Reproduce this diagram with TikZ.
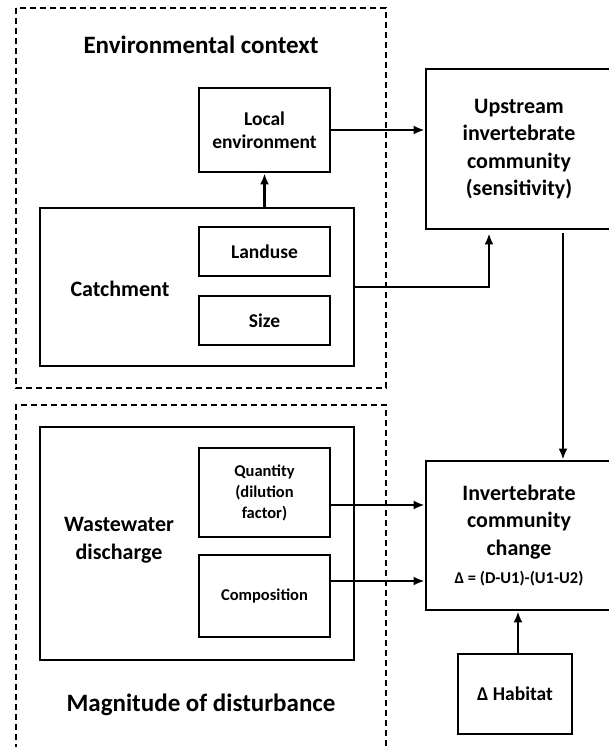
\documentclass[tikz,border=0pt]{standalone}
\usepackage{fontspec}
\setmainfont{Carlito}
\usepackage{tikz}
\usetikzlibrary{arrows.meta}

\tikzset{
  box/.style = {draw, line width=2.8pt, align=center, inner sep=0pt, font=\bfseries},
  group/.style = {draw, line width=2pt},
  frame/.style = {draw, line width=1.4pt, dash pattern=on 6pt off 4pt},
  link/.style = {line width=2.4pt, -{Latex[length=11pt,width=9pt]}},
  big/.style = {font=\bfseries\fontsize{22}{27.5}\selectfont},
  mid/.style = {font=\bfseries\fontsize{19.5}{23}\selectfont},
  small/.style = {font=\bfseries\fontsize{16.5}{21}\selectfont},
  headline/.style = {font=\bfseries\fontsize{25}{30}\selectfont}
}

\begin{document}
\begin{tikzpicture}[x=1pt, y=-1pt]
    \clip (0,0) rectangle (609,747);
    \fill[white] (0,0) rectangle (609,747);

    % draw dashed frames
    \draw[frame] (16,8) rectangle (386,388);
    \draw[frame] (16,760) -- (16,405) -- (386,405) -- (386,760);
    \node[headline] (envtitle) at (201,45) {Environmental context};
    \node[headline] (magtitle) at (201,705) {Magnitude of disturbance};

    % draw environmental context
    \draw[group] (40,208) rectangle (354,366);
    \coordinate (catchtop) at (264.5,208);
    \coordinate (catchright) at (354,287);
    \node[big] (catchlabel) at (120,289) {Catchment};
    \node[box, mid, minimum width=131pt, minimum height=84pt] (local) at (264.5,130) {Local\\environment};
    \node[box, mid, minimum width=131pt, minimum height=49pt] (landuse) at (264.5,251.5) {Landuse};
    \node[box, mid, minimum width=131pt, minimum height=49pt] (size) at (264.5,320.5) {Size};

    % draw magnitude of disturbance
    \draw[group] (40,427) rectangle (354,660);
    \node[big, align=center] (wastelabel) at (119,540) {Wastewater\\discharge};
    \node[box, small, minimum width=131pt, minimum height=89pt] (quantity) at (264.5,492.5) {Quantity\\(dilution\\factor)};
    \node[box, small, minimum width=131pt, minimum height=82pt] (composition) at (264.5,596) {Composition};

    % draw community boxes
    \node[box, big, minimum width=186pt, minimum height=160pt] (upstream) at (519,149)
      {Upstream\\invertebrate\\community\\(sensitivity)};
    \node[box, big, minimum width=186pt, minimum height=149pt] (change) at (519,535.5)
      {Invertebrate\\community\\change\\[1pt]{\fontsize{16.5}{20}\selectfont Δ = (D-U1)-(U1-U2)}};
    \node[box, mid, minimum width=114pt, minimum height=80pt] (habitat) at (515,694) {Δ Habitat};

    % draw arrows
    \draw[link] (catchtop) -- (local.south);
    \draw[link] (local.east) -- (local.east -| upstream.west);
    \draw[link, shorten >=3pt] (catchright) -| ([xshift=-30pt]upstream.south);
    \draw[link, shorten <=3pt] ([xshift=44pt]upstream.south) -- ([xshift=44pt]change.north);
    \draw[link] ([yshift=-12.5pt]quantity.east) -- ([yshift=-12.5pt]quantity.east -| change.west);
    \draw[link] ([yshift=15pt]composition.east) -- ([yshift=15pt]composition.east -| change.west);
    \draw[link] ([xshift=3pt]habitat.north) -- ([xshift=3pt]habitat.north |- change.south);
\end{tikzpicture}
\end{document}
